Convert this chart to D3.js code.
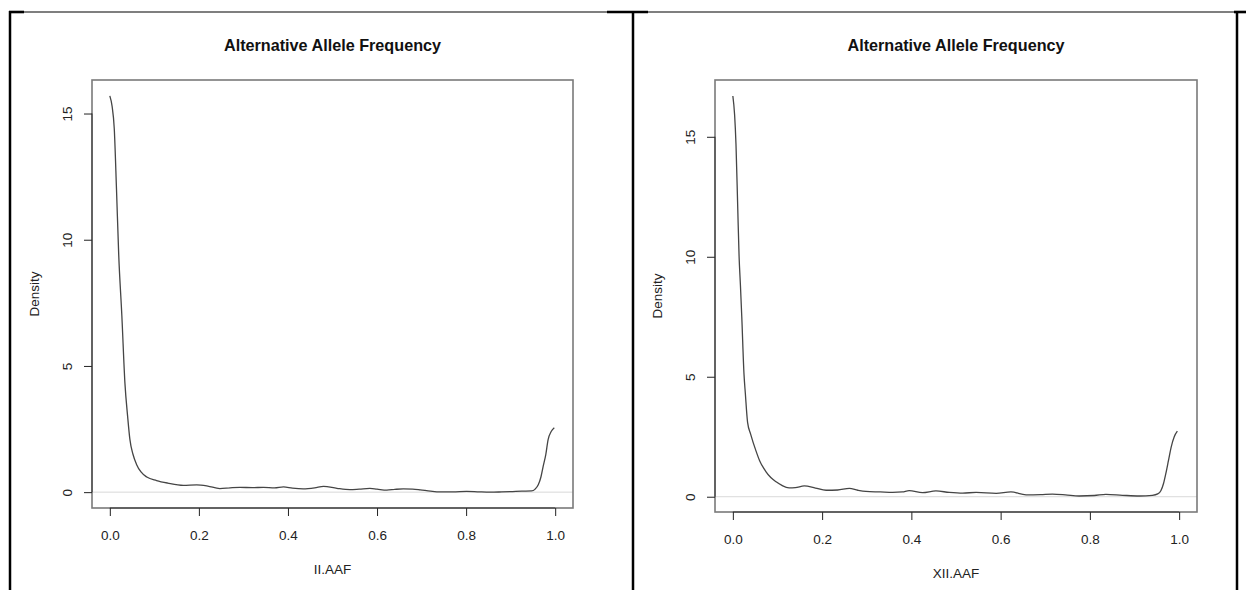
<!DOCTYPE html>
<html>
<head>
<meta charset="utf-8">
<script src="https://cdn.jsdelivr.net/npm/d3@7"></script>
<style>
  html, body { margin: 0; padding: 0; background: #fff; }
  svg { display: block; font-family: "Liberation Sans", Arial, sans-serif; }
</style>
</head>
<body>
<div id="chart"></div>
<script>
// density estimates
const titleText = "Alternative Allele Frequency";
const xTicks = [0, 0.2, 0.4, 0.6, 0.8, 1.0];
const yTicks = [0, 5, 10, 15];

const iiAAF = [0, 0.005, 0.010, 0.015, 0.020, 0.027, 0.034, 0.040, 0.045, 0.052,
  0.060, 0.070, 0.083, 0.105, 0.130, 0.165, 0.195, 0.22, 0.247, 0.27,
  0.292, 0.32, 0.345, 0.37, 0.39, 0.41, 0.434, 0.46, 0.48, 0.51,
  0.539, 0.56, 0.584, 0.60, 0.622, 0.64, 0.659, 0.68, 0.697, 0.72,
  0.741, 0.77, 0.801, 0.83, 0.854, 0.88, 0.899, 0.925, 0.947, 0.955,
  0.962, 0.968, 0.973, 0.979, 0.984, 0.991, 0.998];
const iiDensity = [15.7, 15.3, 14.4, 12.0, 9.4, 7.0, 4.3, 3.0, 2.1, 1.5,
  1.1, 0.8, 0.6, 0.46, 0.36, 0.27, 0.29, 0.24, 0.14, 0.17,
  0.19, 0.18, 0.19, 0.17, 0.21, 0.16, 0.13, 0.17, 0.23, 0.15,
  0.10, 0.12, 0.15, 0.12, 0.08, 0.11, 0.13, 0.12, 0.09, 0.04,
  0.01, 0.01, 0.03, 0.01, 0.00, 0.01, 0.02, 0.04, 0.05, 0.12,
  0.29, 0.6, 1.02, 1.5, 2.07, 2.4, 2.55];

const xiiAAF = [0, 0.004, 0.007, 0.011, 0.014, 0.017, 0.020, 0.025, 0.028, 0.033,
  0.040, 0.052, 0.060, 0.074, 0.085, 0.097, 0.110, 0.126, 0.140, 0.160,
  0.185, 0.209, 0.235, 0.261, 0.280, 0.298, 0.33, 0.358, 0.38, 0.395,
  0.425, 0.455, 0.485, 0.515, 0.545, 0.59, 0.623, 0.657, 0.69, 0.716,
  0.745, 0.776, 0.81, 0.836, 0.873, 0.911, 0.94, 0.952, 0.959, 0.965,
  0.970, 0.976, 0.982, 0.989, 0.996];
const xiiDensity = [16.7, 15.9, 14.7, 12.0, 10.0, 8.8, 7.5, 5.1, 4.3, 3.1,
  2.6, 1.9, 1.5, 1.05, 0.8, 0.62, 0.47, 0.37, 0.38, 0.45,
  0.36, 0.27, 0.28, 0.35, 0.27, 0.22, 0.2, 0.18, 0.2, 0.25,
  0.17, 0.24, 0.18, 0.15, 0.18, 0.14, 0.2, 0.08, 0.09, 0.11,
  0.08, 0.03, 0.05, 0.1, 0.06, 0.03, 0.06, 0.12, 0.25, 0.55,
  0.95, 1.5, 2.06, 2.5, 2.73];

const W = 1246, H = 590;
const FONT = "'Liberation Sans', Arial, sans-serif";
const svg = d3.select("#chart").append("svg")
  .attr("width", W).attr("height", H)
  .attr("viewBox", `0 0 ${W} ${H}`);

// table frame around the two pictures (as pasted in a document)
const frame = svg.append("g").attr("stroke", "#000").attr("fill", "none");
frame.append("line").attr("x1", 9).attr("x2", W).attr("y1", 12).attr("y2", 12).attr("stroke-width", 1.2);
[[9, 24], [607, 648], [1234, 1246]].forEach(([a, b]) =>
  frame.append("line").attr("x1", a).attr("x2", b).attr("y1", 12).attr("y2", 12).attr("stroke-width", 2.6));
[10, 633, 1237].forEach(x =>
  frame.append("line").attr("x1", x).attr("x2", x).attr("y1", 11).attr("y2", H).attr("stroke-width", 2.5));

// one R-style density panel
function drawPanel(box, xs, ys, xLabel, opts) {
  const g = svg.append("g");
  const yMax = d3.max(ys), yMin = d3.min(ys);
  const pad = (yMax - yMin) * 0.04;
  const x = d3.scaleLinear().domain([-0.04, 1.04]).range([box.left, box.right]);
  const y = d3.scaleLinear().domain([yMin - pad, yMax + pad]).range([box.bottom, box.top]);

  // zero line
  g.append("line")
    .attr("x1", box.left).attr("x2", box.right)
    .attr("y1", y(0)).attr("y2", y(0))
    .attr("stroke", "#d9d9d9").attr("stroke-width", 1);

  // curve
  const line = d3.line()
    .x((d, i) => x(xs[i])).y(d => y(d))
    .curve(d3.curveMonotoneX);
  g.append("path").datum(ys)
    .attr("d", line)
    .attr("fill", "none").attr("stroke", "#454545").attr("stroke-width", 1.3);

  // plot box
  g.append("rect")
    .attr("x", box.left).attr("y", box.top)
    .attr("width", box.right - box.left).attr("height", box.bottom - box.top)
    .attr("fill", "none").attr("stroke", "#7a7a7a").attr("stroke-width", 1.6);

  // x axis
  const xAxis = g.append("g").attr("transform", `translate(0,${box.bottom})`)
    .call(d3.axisBottom(x).tickValues(xTicks).tickFormat(d3.format(".1f"))
      .tickSize(8).tickPadding(14));
  xAxis.select(".domain").remove();
  xAxis.append("line").attr("x1", x(xTicks[0])).attr("x2", x(xTicks[xTicks.length - 1]))
    .attr("stroke", "#333");
  xAxis.selectAll(".tick line").attr("stroke", "#222");
  xAxis.selectAll("text").attr("fill", "#222").style("font-size", "13.5px")
    .style("font-family", FONT);

  // y axis (labels parallel to axis, like R's default las = 0)
  const yAxis = g.append("g").attr("transform", `translate(${box.left},0)`)
    .call(d3.axisLeft(y).tickValues(yTicks).tickSize(8).tickFormat(d3.format("d")));
  yAxis.select(".domain").remove();
  yAxis.append("line").attr("y1", y(yTicks[0])).attr("y2", y(yTicks[yTicks.length - 1]))
    .attr("stroke", "#333");
  yAxis.selectAll(".tick line").attr("stroke", "#222");
  yAxis.selectAll(".tick text")
    .attr("x", null).attr("dy", null)
    .attr("transform", "translate(-20,0) rotate(-90)")
    .attr("text-anchor", "middle")
    .attr("fill", "#222").style("font-size", "13.5px")
    .style("font-family", FONT);

  const cx = (box.left + box.right) / 2;
  g.append("text")
    .attr("x", cx).attr("y", 51)
    .attr("text-anchor", "middle")
    .style("font-size", "16.2px").style("font-weight", "bold")
    .attr("fill", "#111")
    .text(titleText);

  g.append("text")
    .attr("x", cx).attr("y", box.bottom + 66)
    .attr("text-anchor", "middle")
    .style("font-size", "13.5px").attr("fill", "#222")
    .text(xLabel);

  g.append("text")
    .attr("transform", `translate(${box.left - 53},${(box.top + box.bottom) / 2}) rotate(-90)`)
    .attr("text-anchor", "middle")
    .style("font-size", "13.5px").attr("fill", "#222")
    .text("Density");
}

drawPanel({ left: 92, right: 573, top: 80, bottom: 508 }, iiAAF, iiDensity, "II.AAF");
drawPanel({ left: 715, right: 1197, top: 80, bottom: 512 }, xiiAAF, xiiDensity, "XII.AAF");
</script>
</body>
</html>
